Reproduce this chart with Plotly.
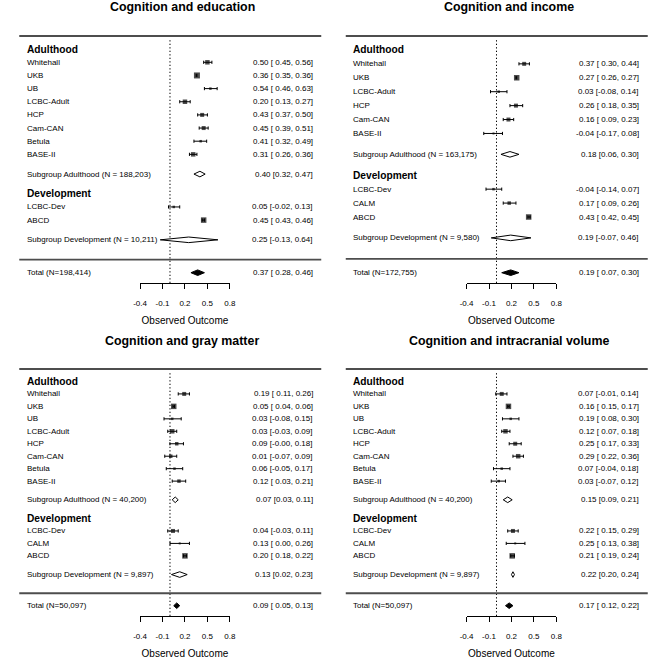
import plotly.graph_objects as go

# ---------------- DATA ----------------
edu_adult_studies = ["Whitehall", "UKB", "UB", "LCBC-Adult", "HCP", "Cam-CAN", "Betula", "BASE-II"]
edu_adult_est = [0.50, 0.36, 0.54, 0.20, 0.43, 0.45, 0.41, 0.31]
edu_adult_lo = [0.45, 0.35, 0.46, 0.13, 0.37, 0.39, 0.32, 0.26]
edu_adult_hi = [0.56, 0.36, 0.63, 0.27, 0.50, 0.51, 0.49, 0.36]
edu_dev_studies = ["LCBC-Dev", "ABCD"]
edu_dev_est = [0.05, 0.45]
edu_dev_lo = [-0.02, 0.43]
edu_dev_hi = [0.13, 0.46]
edu_sub_adult = [0.40, 0.32, 0.47]
edu_sub_dev = [0.25, -0.13, 0.64]
edu_total = [0.37, 0.28, 0.46]
edu_n = ["188,203", "10,211", "198,414"]

inc_adult_studies = ["Whitehall", "UKB", "LCBC-Adult", "HCP", "Cam-CAN", "BASE-II"]
inc_adult_est = [0.37, 0.27, 0.03, 0.26, 0.16, -0.04]
inc_adult_lo = [0.30, 0.26, -0.08, 0.18, 0.09, -0.17]
inc_adult_hi = [0.44, 0.27, 0.14, 0.35, 0.23, 0.08]
inc_dev_studies = ["LCBC-Dev", "CALM", "ABCD"]
inc_dev_est = [-0.04, 0.17, 0.43]
inc_dev_lo = [-0.14, 0.09, 0.42]
inc_dev_hi = [0.07, 0.26, 0.45]
inc_sub_adult = [0.18, 0.06, 0.30]
inc_sub_dev = [0.19, -0.07, 0.46]
inc_total = [0.19, 0.07, 0.30]
inc_n = ["163,175", "9,580", "172,755"]

gm_adult_studies = ["Whitehall", "UKB", "UB", "LCBC-Adult", "HCP", "Cam-CAN", "Betula", "BASE-II"]
gm_adult_est = [0.19, 0.05, 0.03, 0.03, 0.09, 0.01, 0.06, 0.12]
gm_adult_lo = [0.11, 0.04, -0.08, -0.03, -0.001, -0.07, -0.05, 0.03]
gm_adult_hi = [0.26, 0.06, 0.15, 0.09, 0.18, 0.09, 0.17, 0.21]
gm_dev_studies = ["LCBC-Dev", "CALM", "ABCD"]
gm_dev_est = [0.04, 0.13, 0.20]
gm_dev_lo = [-0.03, 0.00, 0.18]
gm_dev_hi = [0.11, 0.26, 0.22]
gm_sub_adult = [0.07, 0.03, 0.11]
gm_sub_dev = [0.13, 0.02, 0.23]
gm_total = [0.09, 0.05, 0.13]
gm_n = ["40,200", "9,897", "50,097"]

icv_adult_studies = ["Whitehall", "UKB", "UB", "LCBC-Adult", "HCP", "Cam-CAN", "Betula", "BASE-II"]
icv_adult_est = [0.07, 0.16, 0.19, 0.12, 0.25, 0.29, 0.07, 0.03]
icv_adult_lo = [-0.01, 0.15, 0.08, 0.07, 0.17, 0.22, -0.04, -0.07]
icv_adult_hi = [0.14, 0.17, 0.30, 0.18, 0.33, 0.36, 0.18, 0.12]
icv_dev_studies = ["LCBC-Dev", "CALM", "ABCD"]
icv_dev_est = [0.22, 0.25, 0.21]
icv_dev_lo = [0.15, 0.13, 0.19]
icv_dev_hi = [0.29, 0.38, 0.24]
icv_sub_adult = [0.15, 0.09, 0.21]
icv_sub_dev = [0.22, 0.20, 0.24]
icv_total = [0.17, 0.12, 0.22]
icv_n = ["40,200", "9,897", "50,097"]

titles = ["Cognition and education", "Cognition and income",
          "Cognition and gray matter", "Cognition and intracranial volume"]
tick_vals = [-0.4, -0.1, 0.2, 0.5, 0.8]
tick_text = ["-0.4", "-0.1", "0.2", "0.5", "0.8"]
x_title = "Observed Outcome"

# ---------------- STYLE ----------------
FONT = "Liberation Sans, Arial, sans-serif"
W = H = 666
MARKER_PX = [
    ([4.5, 6, 2.5, 4.5, 4, 4, 2.5, 4.5], [2.5, 5.5]),
    ([4, 5.5, 2.5, 4, 4, 2], [2.5, 3.5, 5.5]),
    ([4, 5.5, 2.5, 4.5, 3.5, 3.5, 2.5, 3.5], [4, 2, 5.5]),
    ([4, 5.5, 2.5, 4.5, 4, 4.5, 2.5, 2.5], [4, 2, 5.5]),
]
panels = [
    dict(ad=(edu_adult_studies, edu_adult_est, edu_adult_lo, edu_adult_hi),
         dev=(edu_dev_studies, edu_dev_est, edu_dev_lo, edu_dev_hi),
         sa=edu_sub_adult, sd=edu_sub_dev, tot=edu_total, n=edu_n, x0=0, y0=0),
    dict(ad=(inc_adult_studies, inc_adult_est, inc_adult_lo, inc_adult_hi),
         dev=(inc_dev_studies, inc_dev_est, inc_dev_lo, inc_dev_hi),
         sa=inc_sub_adult, sd=inc_sub_dev, tot=inc_total, n=inc_n, x0=333, y0=0),
    dict(ad=(gm_adult_studies, gm_adult_est, gm_adult_lo, gm_adult_hi),
         dev=(gm_dev_studies, gm_dev_est, gm_dev_lo, gm_dev_hi),
         sa=gm_sub_adult, sd=gm_sub_dev, tot=gm_total, n=gm_n, x0=0, y0=333),
    dict(ad=(icv_adult_studies, icv_adult_est, icv_adult_lo, icv_adult_hi),
         dev=(icv_dev_studies, icv_dev_est, icv_dev_lo, icv_dev_hi),
         sa=icv_sub_adult, sd=icv_sub_dev, tot=icv_total, n=icv_n, x0=333, y0=333),
]

P0 = 272.7      # local px of Total row
PTOP = 36.0     # local px of top rule
PAX = 283.0     # local px of axis line
PDT = 28.0      # local px of y-domain top
XL, XR = 135.7, 227.3  # local px of -0.4 and 0.8
DIAM_PX = 2.8


def fmt(v):
    return f"{v:.2f}"


def ci_text(e, lo, hi, pad=True):
    lo_s = fmt(lo)
    if pad and not lo_s.startswith("-"):
        lo_s = " " + lo_s
    return f"{fmt(e)} [{lo_s}, {fmt(hi)}]"


fig = go.Figure()
annotations = []
shapes = []
layout_axes = {}

for i, p in enumerate(panels):
    k = i + 1
    xa = "x" if k == 1 else f"x{k}"
    ya = "y" if k == 1 else f"y{k}"
    x0, y0 = p["x0"], p["y0"]
    ad_names, ad_est, ad_lo, ad_hi = p["ad"]
    dv_names, dv_est, dv_lo, dv_hi = p["dev"]
    n_ad, n_dv = len(ad_names), len(dv_names)

    # row layout (metafor style)
    dev_rows = [3 + n_dv - j for j in range(n_dv)]
    dev_head = 4 + n_dv
    sub_ad_row = dev_head + 1.5
    ad_rows = [sub_ad_row + 1.5 + (n_ad - 1) - j for j in range(n_ad)]
    ad_head = sub_ad_row + 1.5 + n_ad
    top_row = ad_head + 1
    sub_dev_row = 2.5
    rule_row = 1
    tot_row = 0

    s = (P0 - PTOP) / top_row
    r_bot = (P0 - PAX) / s
    r_top = (P0 - PDT) / s
    h = DIAM_PX / s

    layout_axes["xaxis" if k == 1 else f"xaxis{k}"] = dict(
        domain=[(x0 + XL) / W, (x0 + XR) / W], range=[-0.4, 0.8], anchor=ya,
        tickmode="array", tickvals=tick_vals, ticktext=tick_text,
        showline=True, linecolor="black", linewidth=1, ticks="outside",
        ticklen=5, tickwidth=1, tickcolor="black", showgrid=False, zeroline=False,
        mirror=False,
        tickfont=dict(size=8, color="black", family=FONT), ticklabelstandoff=7,
        title=dict(text=x_title, font=dict(size=10, color="black", family=FONT), standoff=10),
        fixedrange=True,
    )
    layout_axes["yaxis" if k == 1 else f"yaxis{k}"] = dict(
        domain=[1 - (y0 + PAX) / H, 1 - (y0 + PDT) / H], range=[r_bot, r_top],
        anchor=xa, visible=False, showline=False, showgrid=False, zeroline=False,
        fixedrange=True,
    )

    # individual studies: squares with CI whiskers
    est = ad_est + dv_est
    lo = ad_lo + dv_lo
    hi = ad_hi + dv_hi
    rows = ad_rows + dev_rows
    sizes = MARKER_PX[i][0] + MARKER_PX[i][1]
    fig.add_trace(go.Scatter(
        x=est, y=rows, mode="markers", xaxis=xa, yaxis=ya,
        marker=dict(symbol="square", size=sizes, color="black", line=dict(width=0)),
        error_x=dict(type="data", symmetric=False,
                     array=[b - a for a, b in zip(est, hi)],
                     arrayminus=[a - b for a, b in zip(est, lo)],
                     color="black", thickness=1, width=1.6),
        showlegend=False, hoverinfo="skip", cliponaxis=False,
    ))

    # summary diamonds
    for vals, row, fill in [(p["sa"], sub_ad_row, "white"),
                            (p["sd"], sub_dev_row, "white"),
                            (p["tot"], tot_row, "black")]:
        e, l, u = vals
        fig.add_trace(go.Scatter(
            x=[l, e, u, e, l], y=[row, row + h, row, row - h, row],
            mode="lines", fill="toself", fillcolor=fill,
            line=dict(color="black", width=1), xaxis=xa, yaxis=ya,
            showlegend=False, hoverinfo="skip", cliponaxis=False,
        ))

    # horizontal rules
    for r in (top_row, rule_row):
        yp = 1 - (y0 + P0 - r * s) / H
        shapes.append(dict(type="line", xref="paper", yref="paper",
                           x0=(x0 + 12.5) / W, x1=(x0 + 320.5) / W, y0=yp, y1=yp,
                           line=dict(color="#4d4d4d", width=1.8)))
    # reference line at 0
    shapes.append(dict(type="line", xref=xa, yref=ya, x0=0, x1=0,
                       y0=r_bot, y1=top_row - 0.25, layer="below",
                       line=dict(color="black", width=1, dash="1.3px,2.2px")))

    lx = (x0 + 18) / W
    rx = (x0 + 314) / W
    lab_font = dict(size=8, color="black", family=FONT)

    def left(text, row, font=lab_font):
        annotations.append(dict(x=lx, xref="paper", y=row, yref=ya, text=text,
                                xanchor="left", yanchor="middle", showarrow=False,
                                font=font))

    def right(text, row):
        annotations.append(dict(x=rx, xref="paper", y=row, yref=ya, text=text,
                                xanchor="right", yanchor="middle", showarrow=False,
                                font=lab_font))

    head_font = dict(size=10.2, color="black", family=FONT)
    left("<b>Adulthood</b>", ad_head, head_font)
    left("<b>Development</b>", dev_head, head_font)
    for nm, e, l, u, r in zip(ad_names, ad_est, ad_lo, ad_hi, ad_rows):
        left(nm, r)
        right(ci_text(e, l, u), r)
    for nm, e, l, u, r in zip(dv_names, dv_est, dv_lo, dv_hi, dev_rows):
        left(nm, r)
        right(ci_text(e, l, u), r)
    left(f"Subgroup Adulthood (N = {p['n'][0]})", sub_ad_row)
    right(ci_text(*p["sa"], pad=False), sub_ad_row)
    left(f"Subgroup Development (N = {p['n'][1]})", sub_dev_row)
    right(ci_text(*p["sd"], pad=False), sub_dev_row)
    left(f"Total (N={p['n'][2]})", tot_row)
    right(ci_text(*p["tot"]), tot_row)

    # panel title
    annotations.append(dict(x=(x0 + 178.5) / W, xref="paper", y=1 - (y0 + 7.5) / H,
                            yref="paper", text=f"<b>{titles[i]}</b>",
                            xanchor="center", yanchor="middle", showarrow=False,
                            font=dict(size=12.4, color="black", family=FONT)))

fig.update_layout(
    width=W, height=H, margin=dict(l=0, r=0, t=0, b=0),
    paper_bgcolor="white", plot_bgcolor="white",
    annotations=annotations, shapes=shapes, showlegend=False,
    **layout_axes,
)

fig.write_html("out.html", config={"displayModeBar": False},
               post_script="document.body.style.margin='0px';")
